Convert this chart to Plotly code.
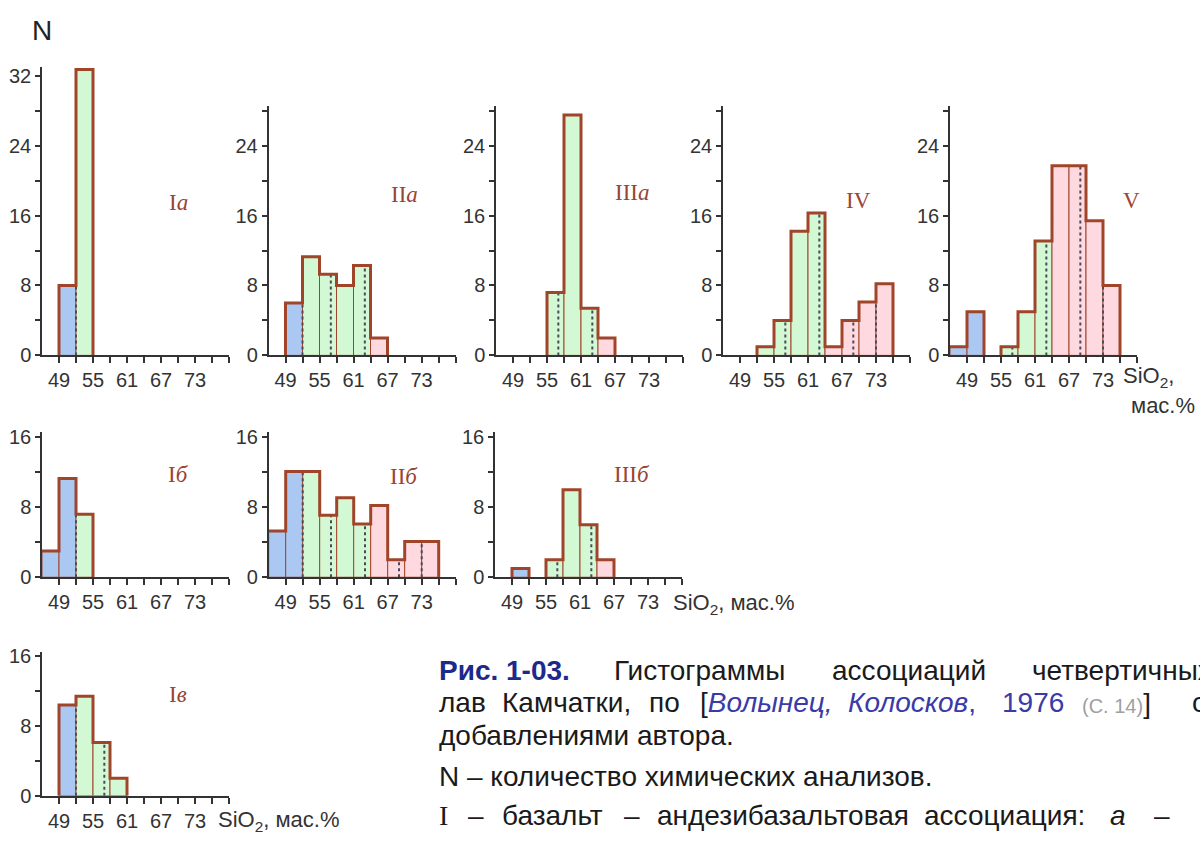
import plotly.graph_objects as go

W, H = 1200, 843

# ---------------- data ----------------
bin_left = [46, 49, 52, 55, 58, 61, 64, 67, 70, 73, 76]
bin_width = 3
bin_colors = ["#aac8f2", "#aac8f2", "#d2f8d4", "#d2f8d4", "#d2f8d4", "#d2f8d4",
              "#ffd9e0", "#ffd9e0", "#ffd9e0", "#ffd9e0", "#ffd9e0"]
rock_bounds = [52, 57, 63, 69, 73]

counts_Ia = [0, 8, 32.7, 0, 0, 0, 0, 0, 0, 0, 0]
counts_IIa = [0, 6, 11.3, 9.3, 8, 10.3, 2, 0, 0, 0, 0]
counts_IIIa = [0, 0, 0, 7.2, 27.5, 5.4, 2, 0, 0, 0, 0]
counts_IV = [0, 0, 1, 4, 14.2, 16.3, 1, 4, 6.1, 8.2, 0]
counts_V = [1, 5, 0, 1, 5, 13.1, 21.7, 21.7, 15.4, 8, 0]
counts_Ib = [3, 11.3, 7.2, 0, 0, 0, 0, 0, 0, 0, 0]
counts_IIb = [5.3, 12.1, 12.1, 7.1, 9.1, 6.1, 8.2, 2, 4.1, 4.1, 0]
counts_IIIb = [0, 1, 0, 2, 10, 6, 2, 0, 0, 0, 0]
counts_Iv = [0, 10.4, 11.4, 6.1, 2, 0, 0, 0, 0, 0, 0]

x_tick_vals = [49, 52, 55, 58, 61, 64, 67, 70, 73, 76, 79]
x_tick_labels = ["49", "", "55", "", "61", "", "67", "", "73", "", ""]

# panel: name label, counts, x-left px, y-bottom px, y max, max labelled y tick, label pos
panels = [
    ("I<i>a</i>", counts_Ia, 42, 356, 33.0, 32, (178, 200)),
    ("II<i>a</i>", counts_IIa, 268.5, 356, 28.5, 24, (404, 192)),
    ("III<i>a</i>", counts_IIIa, 496, 356, 28.5, 24, (632, 190)),
    ("IV", counts_IV, 723, 356, 28.5, 24, (858, 198)),
    ("V", counts_V, 950, 356, 28.5, 24, (1131, 198)),
    ("I<i>б</i>", counts_Ib, 42, 582.7, 16.6, 16, (178, 478)),
    ("II<i>б</i>", counts_IIb, 268.7, 582.7, 16.6, 16, (404, 480)),
    ("III<i>б</i>", counts_IIIb, 495, 582.7, 16.6, 16, (632, 478)),
    ("I<i>в</i>", counts_Iv, 42, 806, 16.4, 16, (178, 702)),
]

PX_PER_UNIT_Y = 8.93
PANEL_W = 187
BROWN = "#a0452a"
AXIS = "#333333"
TICK_FONT = dict(family="Arial, Liberation Sans, sans-serif", size=20, color="#333333")

fig = go.Figure()
layout = dict(width=W, height=H, margin=dict(l=0, r=0, t=0, b=0),
              paper_bgcolor="white", plot_bgcolor="white", showlegend=False,
              annotations=[])

for i, (name, counts, x0, yb, ymax, ylab_max, lab) in enumerate(panels):
    k = "" if i == 0 else str(i + 1)
    xa, ya = "x" + k, "y" + k
    ytop = yb - ymax * PX_PER_UNIT_Y
    layout["xaxis" + k] = dict(
        domain=[x0 / W, (x0 + PANEL_W) / W], range=[46, 79], anchor=ya,
        showline=True, linecolor=AXIS, linewidth=1.5, showgrid=False, zeroline=False,
        tickmode="array", tickvals=x_tick_vals, ticktext=x_tick_labels,
        ticks="outside", ticklen=6, tickwidth=1.5, tickcolor=AXIS,
        tickfont=TICK_FONT, layer="above traces", fixedrange=True)
    yv = list(range(0, int(ymax) + 1, 4))
    layout["yaxis" + k] = dict(
        domain=[1 - yb / H, 1 - ytop / H], range=[0, ymax], anchor=xa,
        showline=True, linecolor=AXIS, linewidth=1.5, showgrid=False, zeroline=False,
        tickmode="array", tickvals=yv,
        ticktext=[str(v) if v % 8 == 0 and v <= ylab_max else "" for v in yv],
        ticks="outside", ticklen=5, tickwidth=1.5, tickcolor=AXIS,
        tickfont=TICK_FONT, layer="above traces", fixedrange=True)

    # bars
    bx = [l + bin_width / 2 for l, c in zip(bin_left, counts) if c > 0]
    by = [c for c in counts if c > 0]
    bc = [col for col, c in zip(bin_colors, counts) if c > 0]
    fig.add_trace(go.Bar(x=bx, y=by, width=bin_width, marker=dict(color=bc,
                         line=dict(color=BROWN, width=1)), xaxis=xa, yaxis=ya,
                         hoverinfo="skip"))

    # dotted rock-type boundaries
    for b in rock_bounds:
        h = None
        for l, c in zip(bin_left, counts):
            if l < b < l + bin_width:
                h = c
        if h is None:
            left = [c for l, c in zip(bin_left, counts) if l + bin_width == b]
            right = [c for l, c in zip(bin_left, counts) if l == b]
            h = min(left[0] if left else 0, right[0] if right else 0)
        if h > 0:
            fig.add_trace(go.Scatter(x=[b, b], y=[0, h], mode="lines",
                                     line=dict(color="#4a4a5a", width=2, dash="dot"),
                                     xaxis=xa, yaxis=ya, hoverinfo="skip"))

    # thick outline around contiguous runs of bins
    ox, oy = [], []
    run = []
    for j, c in enumerate(counts + [0]):
        if j < len(counts) and c > 0:
            run.append(j)
        elif run:
            l0 = bin_left[run[0]]
            if l0 > 46:
                ox.append(l0); oy.append(0)
            for jj in run:
                ox += [bin_left[jj], bin_left[jj] + bin_width]
                oy += [counts[jj], counts[jj]]
            ox.append(bin_left[run[-1]] + bin_width); oy.append(0)
            ox.append(None); oy.append(None)
            run = []
    fig.add_trace(go.Scatter(x=ox, y=oy, mode="lines",
                             line=dict(color=BROWN, width=3),
                             xaxis=xa, yaxis=ya, hoverinfo="skip"))

    layout["annotations"].append(dict(
        text=name, x=lab[0] / W, y=1 - lab[1] / H, xref="paper", yref="paper",
        xanchor="center", yanchor="middle", showarrow=False,
        font=dict(family="Liberation Serif, Times New Roman, serif", size=23, color="#9a4432")))


def ann(text, x, y, size=20, color="#333333", family="Arial, Liberation Sans, sans-serif",
        xanchor="left"):
    layout["annotations"].append(dict(
        text=text, x=x / W, y=1 - y / H, xref="paper", yref="paper",
        xanchor=xanchor, yanchor="middle", showarrow=False,
        font=dict(family=family, size=size, color=color)))


# N label and SiO2 labels
ann("N", 30, 24, size=28, color="#222222")
ann("SiO<sub>2</sub>,", 1121, 378, size=22)
ann("мас.%", 1197, 407, size=22, xanchor="right")
ann("SiO<sub>2</sub>, мас.%", 671, 610, size=22)
ann("SiO<sub>2</sub>, мас.%", 216, 832, size=22)

# caption
CAP = "Arial, Liberation Sans, sans-serif"
CAPSZ = 28
NAVY = "#1c2a8c"
REF = "#3a3aa8"
TXT = "#1a1a1a"
y1, y2, y3, y4, y5 = 678, 711, 744, 786, 826

ann("<b>Рис. 1-03.</b>", 437, y1, CAPSZ, NAVY, CAP)
ann("Гистограммы", 612, y1, CAPSZ, TXT, CAP)
ann("ассоциаций", 830, y1, CAPSZ, TXT, CAP)
ann("четвертичных", 1030, y1, CAPSZ, TXT, CAP)

ann("лав", 437, y2, CAPSZ, TXT, CAP)
ann("Камчатки,", 500, y2, CAPSZ, TXT, CAP)
ann("по", 647, y2, CAPSZ, TXT, CAP)
ann("[<span style='color:%s'><i>Волынец,</i></span>" % REF, 698, y2, CAPSZ, TXT, CAP)
ann("<i>Колосков</i>,", 846, y2, CAPSZ, REF, CAP)
ann("1976", 1000, y2, CAPSZ, REF, CAP)
ann("(С. 14)<span style='color:%s;font-size:28px'>]</span>" % TXT, 1080, y2 + 1, 20, "#a0a0a0", CAP)
ann("с", 1190, y2, CAPSZ, TXT, CAP)

ann("добавлениями автора.", 437, y3, CAPSZ, TXT, CAP)
ann("N – количество химических анализов.", 437, y4, CAPSZ, TXT, CAP)

ann("I", 437, y5, CAPSZ, TXT, "Liberation Serif, serif")
ann("–", 466, y5, CAPSZ, TXT, CAP)
ann("базальт", 500, y5, CAPSZ, TXT, CAP)
ann("–", 622, y5, CAPSZ, TXT, CAP)
ann("андезибазальтовая", 655, y5, CAPSZ, TXT, CAP)
ann("ассоциация:", 922, y5, CAPSZ, TXT, CAP)
ann("<i>а</i>", 1108, y5, CAPSZ, TXT, CAP)
ann("–", 1152, y5, CAPSZ, TXT, CAP)

fig.update_layout(**layout)
fig.write_html("out.html")
